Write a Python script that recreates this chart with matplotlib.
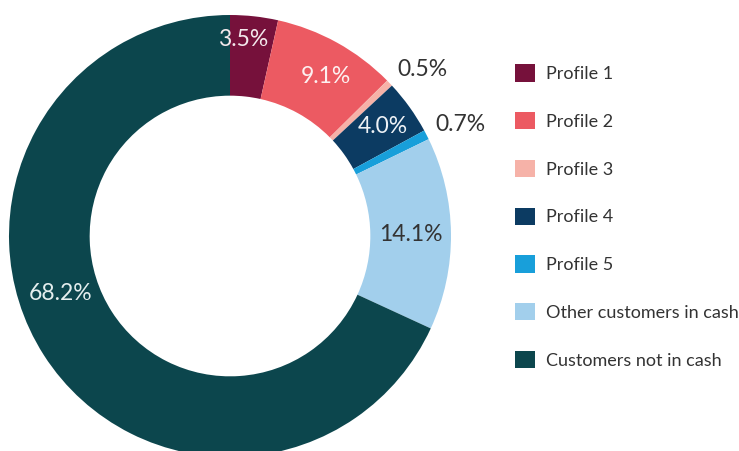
import numpy as np
import matplotlib
matplotlib.use("Agg")
import matplotlib.pyplot as plt

categories = ["Profile 1", "Profile 2", "Profile 3", "Profile 4", "Profile 5",
              "Other customers in cash", "Customers not in cash"]
shares = [3.5, 9.1, 0.5, 4.0, 0.7, 14.1, 68.2]
colors = ["#76113B", "#EC5A62", "#F6B2A8", "#0C3B62", "#189FDA", "#A2CFEC", "#0C464D"]

# label placement tweaks (radius, extra angle in degrees clockwise), text colour
lab_r = [0.89, 0.84, 1.15, 0.85, 1.16, 0.82, 0.81]
lab_da = [-2.5, 2, 3, 0, 1.5, 0, 14]
lab_col = ["#f3e8ec", "#fdf0f0", "#333333", "#eef2f6", "#333333", "#333333", "#e4eeee"]

plt.rcParams["font.family"] = ["Lato", "DejaVu Sans"]

W, H = 739, 451
cx, cy, R = 230, 236, 221
fig = plt.figure(figsize=(W / 100, H / 100), dpi=100)
ax = fig.add_axes([(cx - R) / W, (H - cy - R) / H, 2 * R / W, 2 * R / H])

wedges, _ = ax.pie(shares, colors=colors, startangle=90, counterclock=False,
                   radius=1, wedgeprops=dict(width=0.365, linewidth=0))
ax.set_xlim(-1, 1)
ax.set_ylim(-1, 1)
ax.set_aspect("equal")
ax.axis("off")

total = sum(shares)
cum = 0
for v, r, da, c in zip(shares, lab_r, lab_da, lab_col):
    mid = (cum + v / 2) / total * 360 + da
    cum += v
    a = np.radians(90 - mid)
    ax.text(r * np.cos(a), r * np.sin(a), f"{v:.1f}%", ha="center", va="center",
            fontsize=16.5, color=c)

fig.legend(wedges, categories, loc="upper left", bbox_to_anchor=(499 / W, 1 - 48 / H),
           frameon=False, fontsize=13, labelspacing=1.66, handlelength=1.1,
           handleheight=1.1, handletextpad=0.6, labelcolor="#333333")

fig.savefig("out.png", dpi=100)
